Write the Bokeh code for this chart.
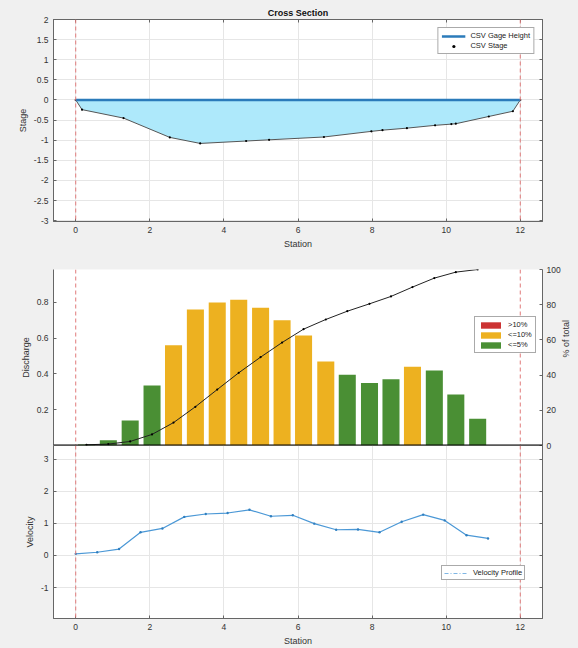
import numpy as np
from bokeh.plotting import figure
from bokeh.layouts import column
from bokeh.models import (Range1d, LinearAxis, FixedTicker, Span, Legend, LegendItem,
                          ColumnDataSource, GlobalInlineStyleSheet)
from bokeh.embed import file_html
from bokeh.resources import INLINE

# ---------------- data ----------------
stage_station = [0.0, 0.17, 1.29, 2.54, 3.36, 4.60, 5.22, 6.70, 7.98, 8.28, 8.94, 9.70, 10.14, 10.26, 11.15, 11.80, 12.0]
stage_value = [0.0, -0.24, -0.45, -0.93, -1.08, -1.02, -0.99, -0.92, -0.78, -0.75, -0.70, -0.63, -0.60, -0.59, -0.41, -0.28, 0.0]
gage_station = [0.0, 12.0]
gage_height = [0.0, 0.0]
edge_stations = [0.0, 12.0]

bar_station = [0.29, 0.88, 1.47, 2.06, 2.64, 3.23, 3.82, 4.40, 4.99, 5.57, 6.15, 6.75, 7.33, 7.93, 8.51, 9.09, 9.68, 10.26, 10.85]
discharge = [0.005, 0.03, 0.14, 0.335, 0.56, 0.76, 0.80, 0.815, 0.77, 0.70, 0.615, 0.47, 0.395, 0.35, 0.37, 0.44, 0.42, 0.285, 0.15]
category = ["<=5%", "<=5%", "<=5%", "<=5%", "<=10%", "<=10%", "<=10%", "<=10%", "<=10%", "<=10%", "<=10%", "<=10%",
            "<=5%", "<=5%", "<=5%", "<=10%", "<=5%", "<=5%", "<=5%"]
cum_pct = [0.4, 0.8, 2.3, 6.3, 13.0, 22.0, 31.8, 41.3, 50.2, 58.5, 66.1, 71.6, 76.3, 80.5, 84.7, 90.0, 95.1, 98.5, 100.0]
legend_categories = [">10%", "<=10%", "<=5%"]

vel_station = [0.0, 0.58, 1.17, 1.75, 2.34, 2.93, 3.51, 4.10, 4.69, 5.27, 5.86, 6.44, 7.03, 7.62, 8.20, 8.80, 9.38, 9.96, 10.55, 11.13]
velocity = [0.05, 0.10, 0.20, 0.72, 0.84, 1.20, 1.29, 1.32, 1.42, 1.22, 1.25, 0.99, 0.80, 0.81, 0.72, 1.05, 1.27, 1.09, 0.63, 0.53]

x_ticks = [0, 2, 4, 6, 8, 10, 12]
stage_ticks = [-3, -2.5, -2, -1.5, -1, -0.5, 0, 0.5, 1, 1.5, 2]
discharge_ticks = [0.2, 0.4, 0.6, 0.8]
pct_ticks = [0, 20, 40, 60, 80, 100]
vel_ticks = [-1, 0, 1, 2, 3]

# ---------------- style ----------------
FONT = "Liberation Sans"
TXT = "#333333"
AX = "#666666"
GRID = "#e6e6e6"
BG = "#f0f0f0"
RED_DASH = "#e07a7a"
cat_colors = {">10%": "#cc3333", "<=10%": "#edb120", "<=5%": "#4a8f34"}

W = 578
LEFT, RIGHT = 53, 34
OVERLAP = 7


def fmt(ticks):
    return {t: ("%g" % t) for t in ticks}


def style_axis(ax, ticks=None, label=None):
    if ticks is not None:
        ax.ticker = FixedTicker(ticks=ticks)
        ax.major_label_overrides = fmt(ticks)
    ax.axis_line_color = AX
    ax.major_tick_line_color = AX
    ax.major_tick_in = 3
    ax.major_tick_out = 0
    ax.minor_tick_line_color = None
    ax.major_label_text_font = FONT
    ax.major_label_text_font_size = "8.5px"
    ax.major_label_text_color = TXT
    ax.major_label_standoff = 5
    if label is not None:
        ax.axis_label = label
    ax.axis_label_text_font = FONT
    ax.axis_label_text_font_size = "9px"
    ax.axis_label_text_font_style = "normal"
    ax.axis_label_text_color = TXT
    ax.axis_label_standoff = 3


def box_axis(p, side, ticks, range_name="default"):
    kw = {} if side == "above" else {"y_range_name": range_name}
    ax = LinearAxis(ticker=FixedTicker(ticks=ticks), **kw)
    ax.major_label_overrides = {t: "" for t in ticks}
    ax.major_label_text_font_size = "1px"
    ax.major_label_standoff = 0
    ax.axis_line_color = AX
    ax.major_tick_line_color = AX
    ax.major_tick_in = 3
    ax.major_tick_out = 0
    ax.minor_tick_line_color = None
    p.add_layout(ax, side)
    return ax


def base_fig(height, y_range, top, bottom, x_range, **kw):
    p = figure(width=W, height=height, x_range=x_range, y_range=y_range,
               output_backend="svg", toolbar_location=None,
               min_border_left=LEFT, min_border_right=RIGHT,
               min_border_top=top, min_border_bottom=bottom, **kw)
    p.background_fill_color = "white"
    p.border_fill_color = BG
    p.outline_line_color = AX
    p.xgrid.grid_line_color = GRID
    p.ygrid.grid_line_color = GRID
    return p


def style_legend(lg):
    lg.border_line_color = "#555555"
    lg.border_line_width = 1
    lg.background_fill_color = "white"
    lg.background_fill_alpha = 1.0
    lg.label_text_font = FONT
    lg.label_text_font_size = "7.5px"
    lg.label_text_color = "#222222"
    lg.label_height = 9
    lg.glyph_height = 8
    lg.label_standoff = 5
    lg.spacing = 1
    lg.padding = 3


x_range = Range1d(-0.6, 12.6)

# ---------------- top: cross section ----------------
p1 = base_fig(258, Range1d(-3.02, 2.0), 19, 37, x_range)
p1.title.text = "Cross Section"
p1.title.align = "center"
p1.title.text_font = FONT
p1.title.text_font_size = "9px"
p1.title.text_font_style = "bold"
p1.title.text_color = "#111111"
p1.title.standoff = 3
p1.title.offset = 0
style_axis(p1.xaxis[0], x_ticks, "Station")
style_axis(p1.yaxis[0], stage_ticks, "Stage")
box_axis(p1, "above", x_ticks)
box_axis(p1, "right", stage_ticks)
p1.xgrid.ticker = FixedTicker(ticks=x_ticks)
p1.ygrid.ticker = FixedTicker(ticks=stage_ticks)

p1.patch(stage_station, stage_value, fill_color="#aee9fb", line_color=None)
p1.line(stage_station, stage_value, line_color="#555555", line_width=1)
r_stage = p1.scatter(stage_station, stage_value, size=2.2, fill_color="black", line_color=None)
r_gage = p1.line(gage_station, gage_height, line_color="#2b7bba", line_width=2.5)
for xs in edge_stations:
    p1.add_layout(Span(location=xs, dimension="height", line_color=RED_DASH, line_dash="4 3", line_width=1))

lg1 = Legend(items=[LegendItem(label="CSV Gage Height", renderers=[r_gage]),
                    LegendItem(label="CSV Stage", renderers=[r_stage])],
             location="top_right")
style_legend(lg1)
lg1.glyph_width = 24
lg1.margin = 8
p1.add_layout(lg1)

# ---------------- middle: discharge ----------------
p2 = base_fig(187 + OVERLAP, Range1d(0, 0.984), 11, OVERLAP, x_range,
              styles={"position": "relative", "z-index": "2"})
p2.border_fill_alpha = 0.0
p2.outline_line_color = None
p2.xgrid.grid_line_color = None
p2.ygrid.grid_line_color = None
p2.xaxis.visible = False
style_axis(p2.yaxis[0], discharge_ticks, "Discharge")
p2.extra_y_ranges = {"pct": Range1d(0, 100)}
ax_r = LinearAxis(y_range_name="pct")
style_axis(ax_r, pct_ticks, "% of total")
ax_r.major_label_standoff = 4
ax_r.axis_label_standoff = 2
ax_r.axis_label_orientation = np.pi / 2
p2.add_layout(ax_r, "right")

for xs in edge_stations:
    p2.add_layout(Span(location=xs, dimension="height", line_color=RED_DASH, line_dash="4 3", line_width=1))

bar_renderers = {}
for cat in legend_categories:
    xs = [x for x, c in zip(bar_station, category) if c == cat]
    ys = [d for d, c in zip(discharge, category) if c == cat]
    if xs:
        src = ColumnDataSource(dict(x=xs, top=ys))
        r = p2.vbar(x="x", top="top", bottom=0, width=0.46, source=src,
                    fill_color=cat_colors[cat], line_color=None)
    else:
        # category with no bars: legend entry only (hidden renderer)
        src = ColumnDataSource(dict(x=bar_station, top=discharge))
        r = p2.vbar(x="x", top="top", bottom=0, width=0.46, source=src,
                    fill_color=cat_colors[cat], line_color=None, visible=False)
    bar_renderers[cat] = r

p2.line(bar_station, cum_pct, y_range_name="pct", line_color="#222222", line_width=1)
p2.scatter(bar_station, cum_pct, y_range_name="pct", size=2.2, fill_color="black", line_color=None)
p2.add_layout(Span(location=0, dimension="width", line_color="black", line_width=2))

lg2 = Legend(items=[LegendItem(label=c, renderers=[bar_renderers[c]]) for c in legend_categories],
             location=(421, 92))
style_legend(lg2)
lg2.glyph_width = 25
lg2.margin = 0
p2.add_layout(lg2)

# ---------------- bottom: velocity ----------------
p3 = base_fig(203, Range1d(-1.96, 3.42), 0, 26, x_range,
              styles={"margin-top": "-%dpx" % OVERLAP, "position": "relative", "z-index": "1"})
style_axis(p3.xaxis[0], x_ticks, "Station")
style_axis(p3.yaxis[0], vel_ticks, "Velocity")
box_axis(p3, "right", vel_ticks)
p3.xgrid.ticker = FixedTicker(ticks=x_ticks)
p3.ygrid.ticker = FixedTicker(ticks=vel_ticks)
for xs in edge_stations:
    p3.add_layout(Span(location=xs, dimension="height", line_color=RED_DASH, line_dash="4 3", line_width=1))
p3.line(vel_station, velocity, line_color="#4b98d6", line_width=1.2)
p3.scatter(vel_station, velocity, size=2.4, fill_color="#2f7fc0", line_color=None)
r_leg = p3.line(vel_station, velocity, line_color="#7fb6e4", line_width=1, line_dash="4 2 1 2", visible=False)

lg3 = Legend(items=[LegendItem(label="Velocity Profile", renderers=[r_leg])], location=(388, 38))
style_legend(lg3)
lg3.glyph_width = 24
lg3.margin = 0
lg3.padding = 2
p3.add_layout(lg3)

layout = column(p1, p2, p3, spacing=0,
                stylesheets=[GlobalInlineStyleSheet(css="html, body { background-color: #f0f0f0; overflow: hidden; }")])

open("out.html", "w").write(file_html(layout, INLINE))
